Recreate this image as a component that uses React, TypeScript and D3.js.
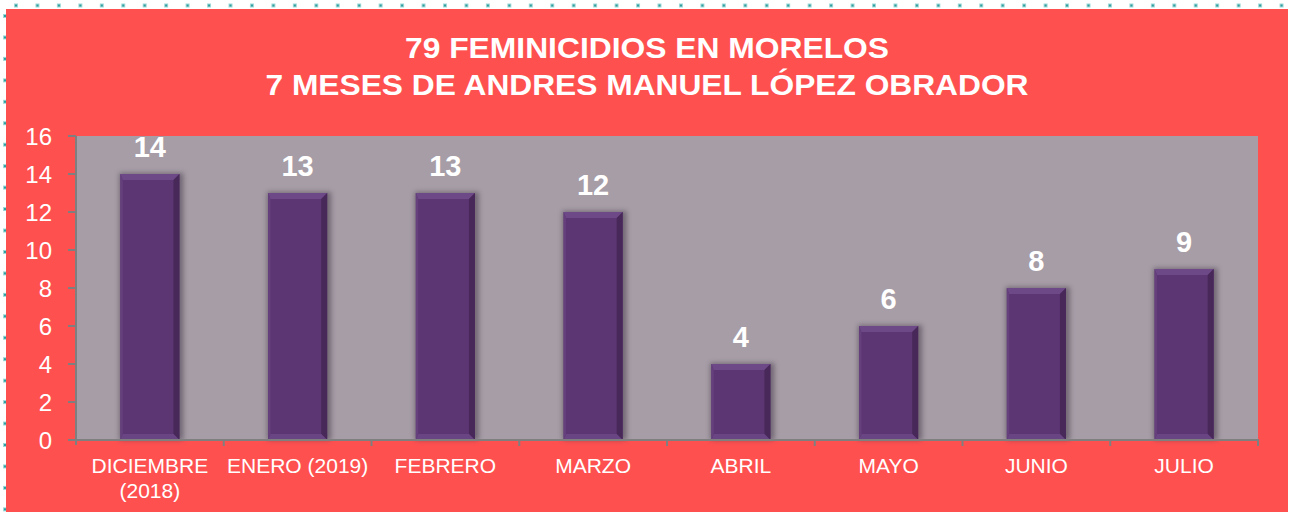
import React from "react";
import * as d3 from "d3";

const categories = ["DICIEMBRE\n(2018)", "ENERO (2019)", "FEBRERO", "MARZO", "ABRIL", "MAYO", "JUNIO", "JULIO"];
const values = [14, 13, 13, 12, 4, 6, 8, 9];
const yTicks = [0, 2, 4, 6, 8, 10, 12, 14, 16];
const titleLines = ["79 FEMINICIDIOS EN MORELOS", "7 MESES DE ANDRES MANUEL LÓPEZ OBRADOR"];
const titleWidths = [484, 763];

const W = 1294;
const H = 512;
const plot = { left: 76, right: 1258, top: 136, bottom: 440 };

export default function App() {
  const x = d3.scaleBand<string>().domain(categories).range([plot.left, plot.right]).paddingInner(0.6).paddingOuter(0.3);
  const band = d3.scaleBand<string>().domain(categories).range([plot.left, plot.right]).padding(0);
  const y = d3.scaleLinear().domain([0, 16]).range([plot.bottom, plot.top]);
  const font = "'Liberation Sans', Arial, sans-serif";
  const topDots = d3.range(16, W - 4, 21.45);
  const leftDots = d3.range(16, H + 2, 21.45);
  const bw = x.bandwidth();
  const b = 6;

  return (
    <div style={{ position: "fixed", left: 0, top: 0, width: W, height: H, background: "#fff" }}>
      <svg width={W} height={H} style={{ display: "block" }}>
        <defs>
          <filter id="sh" x="-20%" y="-10%" width="140%" height="120%">
            <feGaussianBlur stdDeviation="2.5" />
          </filter>
        </defs>
        {topDots.map((d, i) => (
          <g key={"t" + i}>
            <rect x={d - 2} y={3.5} width={4} height={4} fill="#9fd8d8" />
            <rect x={d - 1} y={4.5} width={2} height={2} fill="#2f9d9d" />
          </g>
        ))}
        {leftDots.map((d, i) => (
          <g key={"l" + i}>
            <rect x={3} y={d - 2} width={4} height={4} fill="#9fd8d8" />
            <rect x={4} y={d - 1} width={2} height={2} fill="#2f9d9d" />
          </g>
        ))}
        <rect x={6} y={9} width={1282} height={H - 9} fill="#FF5050" />
        {titleLines.map((t, i) => (
          <text key={i} x={647} y={58 + i * 37} textAnchor="middle" fill="#fff" fontFamily={font} fontWeight="bold" fontSize={30} textLength={titleWidths[i]} lengthAdjust="spacingAndGlyphs">
            {t}
          </text>
        ))}
        <rect x={plot.left} y={plot.top} width={plot.right - plot.left} height={plot.bottom - plot.top} fill="#A69DA6" />
        {categories.map((c, i) => {
          const x0 = x(c)!;
          const y0 = y(values[i]);
          const y1 = y(0);
          const x1 = x0 + bw;
          return (
            <g key={c}>
              <rect x={x0 - 1} y={y0 - 1} width={bw + 5} height={y1 - y0 + 1} fill="#4a3d4e" opacity={0.55} filter="url(#sh)" />
              <rect x={x0} y={y0} width={bw} height={y1 - y0} fill="#5C3672" />
              <polygon points={`${x0},${y0} ${x1},${y0} ${x1 - b},${y0 + b} ${x0 + b * 0.4},${y0 + b}`} fill="#6E4987" />
              <polygon points={`${x1},${y0} ${x1},${y1} ${x1 - b},${y1 - b} ${x1 - b},${y0 + b}`} fill="#482859" />
              <polygon points={`${x0},${y1} ${x1},${y1} ${x1 - b},${y1 - b} ${x0 + b * 0.4},${y1 - b}`} fill="#6A4583" />
              <polygon points={`${x0},${y0} ${x0 + b * 0.4},${y0 + b} ${x0 + b * 0.4},${y1 - b} ${x0},${y1}`} fill="#65407D" />
              <text x={x0 + bw / 2} y={y0 - 17} textAnchor="middle" fill="#fff" fontFamily={font} fontWeight="bold" fontSize={29}>
                {values[i]}
              </text>
            </g>
          );
        })}
        <line x1={plot.left} x2={plot.left} y1={plot.top} y2={plot.bottom + 5} stroke="#7F7F7F" strokeWidth={2} />
        <line x1={plot.left - 8} x2={plot.right + 1} y1={plot.bottom} y2={plot.bottom} stroke="#7F7F7F" strokeWidth={2} />
        {yTicks.map((t) => (
          <g key={t}>
            <line x1={plot.left - 8} x2={plot.left} y1={y(t)} y2={y(t)} stroke="#7F7F7F" strokeWidth={2} />
            <text x={52} y={y(t) + 8.6} textAnchor="end" fill="#fff" fontFamily={font} fontSize={24}>
              {t}
            </text>
          </g>
        ))}
        {categories.map((c, i) => (
          <line key={"xt" + i} x1={band(c)! + band.bandwidth()} x2={band(c)! + band.bandwidth()} y1={plot.bottom} y2={plot.bottom + 6} stroke="#7F7F7F" strokeWidth={2} />
        ))}
        {categories.map((c) => {
          const lines = c.split("\n");
          const cx = band(c)! + band.bandwidth() / 2;
          return (
            <text key={"xl" + c} textAnchor="middle" fill="#fff" fontFamily={font} fontSize={21}>
              {lines.map((l, j) => (
                <tspan key={j} x={cx} y={473 + j * 25}>
                  {l}
                </tspan>
              ))}
            </text>
          );
        })}
      </svg>
    </div>
  );
}
